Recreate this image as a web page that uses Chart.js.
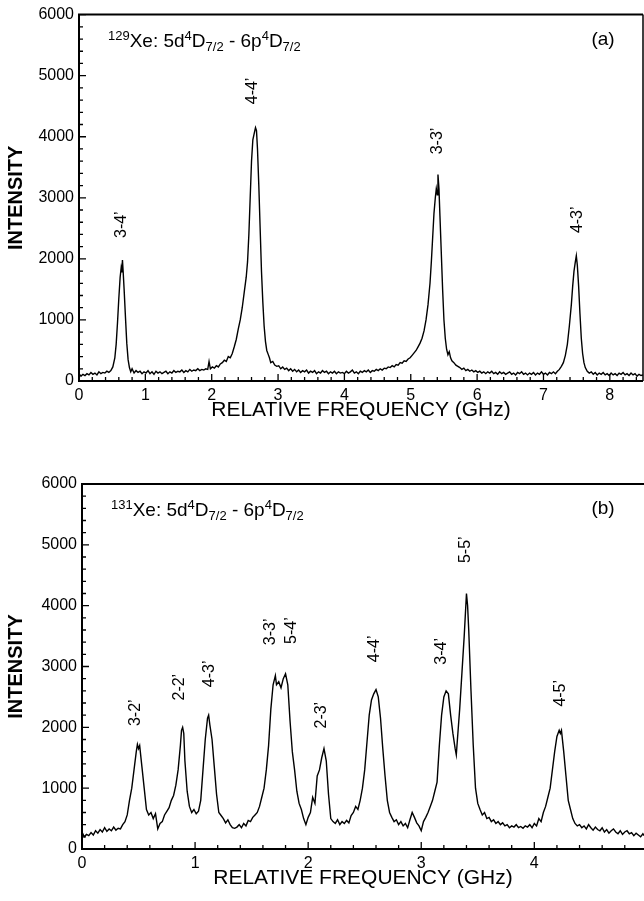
<!DOCTYPE html>
<html>
<head>
<meta charset="utf-8">
<script src="https://cdn.jsdelivr.net/npm/chart.js@4.4.0/dist/chart.umd.min.js"></script>
<style>
  html, body { margin: 0; padding: 0; background: #fff; }
  .panel { position: absolute; left: 0; width: 644px; }
</style>
</head>
<body>
<div class="panel" style="top:0;height:450px"><canvas id="chartA"></canvas></div>
<div class="panel" style="top:450px;height:451px"><canvas id="chartB"></canvas></div>
<script>
// ---- data ----
// (a) 129Xe spectrum
var freqA = [
  0.00,0.03,0.06,0.09,0.12,0.15,0.18,0.21,0.24,0.27,
  0.30,0.33,0.36,0.39,0.42,0.45,0.48,0.51,0.54,0.56,
  0.58,0.60,0.62,0.635,0.645,0.655,0.665,0.68,0.70,0.72,
  0.74,0.76,0.78,0.80,0.83,0.86,0.89,0.92,0.95,0.98,
  1.01,1.04,1.07,1.10,1.13,1.16,1.19,1.22,1.25,1.28,
  1.31,1.34,1.37,1.40,1.43,1.46,1.49,1.52,1.55,1.58,
  1.61,1.64,1.67,1.70,1.73,1.76,1.79,1.82,1.85,1.88,
  1.91,1.94,1.96,1.98,2.01,2.04,2.07,2.10,2.13,2.16,
  2.19,2.22,2.25,2.28,2.31,2.34,2.37,2.40,2.43,2.46,
  2.49,2.52,2.54,2.56,2.58,2.60,2.62,2.64,2.66,2.675,
  2.69,2.71,2.73,2.75,2.77,2.79,2.81,2.83,2.85,2.87,
  2.89,2.92,2.95,2.98,3.01,3.04,3.07,3.10,3.13,3.16,
  3.19,3.22,3.25,3.28,3.31,3.34,3.37,3.40,3.43,3.46,
  3.49,3.52,3.55,3.58,3.61,3.64,3.67,3.70,3.73,3.76,
  3.79,3.82,3.85,3.88,3.91,3.94,3.97,4.00,4.03,4.06,
  4.09,4.12,4.15,4.18,4.21,4.24,4.27,4.30,4.33,4.36,
  4.39,4.42,4.45,4.48,4.51,4.54,4.57,4.60,4.63,4.66,
  4.69,4.72,4.75,4.78,4.81,4.84,4.87,4.90,4.93,4.96,
  4.99,5.02,5.05,5.08,5.11,5.14,5.17,5.20,5.23,5.26,
  5.29,5.31,5.33,5.35,5.37,5.385,5.40,5.41,5.425,5.44,
  5.46,5.48,5.50,5.52,5.54,5.56,5.58,5.60,5.62,5.65,
  5.68,5.71,5.74,5.77,5.80,5.83,5.86,5.89,5.92,5.95,
  5.98,6.01,6.04,6.07,6.10,6.13,6.16,6.19,6.22,6.25,
  6.28,6.31,6.34,6.37,6.40,6.43,6.46,6.49,6.52,6.55,
  6.58,6.61,6.64,6.67,6.70,6.73,6.76,6.79,6.82,6.85,
  6.88,6.91,6.94,6.97,7.00,7.03,7.06,7.09,7.12,7.15,
  7.18,7.21,7.24,7.27,7.30,7.33,7.36,7.39,7.42,7.44,
  7.46,7.48,7.495,7.51,7.53,7.55,7.57,7.59,7.61,7.63,
  7.66,7.69,7.72,7.75,7.78,7.81,7.84,7.87,7.90,7.93,
  7.96,7.99,8.02,8.05,8.08,8.11,8.14,8.17,8.20,8.23,
  8.26,8.29,8.32,8.35,8.38,8.41,8.44,8.47,8.50
];
var intensityA = [
  120,80,110,90,120,100,140,110,130,100,
  150,120,140,130,160,140,170,230,380,600,
  950,1350,1700,1850,1780,1980,1800,1500,1050,620,
  350,220,150,200,130,170,140,160,120,150,
  130,170,120,150,110,160,130,150,120,140,
  160,120,150,130,170,140,160,150,180,140,
  170,150,190,160,180,170,200,170,190,180,
  200,190,320,200,230,210,250,230,280,300,
  340,320,400,380,450,560,680,850,1000,1200,
  1450,1700,1950,2400,3000,3600,3950,4050,4150,4100,
  3800,3200,2500,1800,1300,900,650,500,440,380,
  300,320,260,240,250,200,230,190,210,170,
  200,160,190,150,180,140,170,150,180,130,
  160,140,170,120,150,130,170,140,160,120,
  150,130,160,120,150,130,140,120,160,130,
  150,180,130,150,120,160,140,170,150,180,
  140,170,160,190,170,200,180,210,200,230,
  220,250,230,270,260,300,290,330,320,360,
  380,420,460,500,560,620,700,820,1000,1250,
  1600,1950,2350,2750,3000,3150,3050,3380,3150,2700,
  2100,1500,1000,700,520,430,480,380,330,300,
  260,240,220,190,210,170,190,160,180,150,
  170,140,160,130,150,120,150,130,160,120,
  140,110,150,120,140,110,130,150,110,130,
  100,140,120,150,110,130,100,130,110,140,
  100,130,110,150,110,130,100,140,120,150,
  120,160,190,240,300,420,600,900,1250,1550,
  1800,1950,2050,1900,1550,1100,700,450,300,220,
  160,130,150,110,140,100,130,110,140,100,
  120,90,130,100,120,90,130,110,140,100,
  120,90,130,100,120,80,110,90,100
];

// (b) 131Xe spectrum
var freqB = [
  0.00,0.02,0.04,0.06,0.08,0.10,0.12,0.14,0.16,0.18,
  0.20,0.22,0.24,0.26,0.28,0.30,0.32,0.34,0.36,0.38,
  0.40,0.42,0.44,0.46,0.48,0.49,0.50,0.51,0.53,0.55,
  0.57,0.59,0.61,0.63,0.65,0.67,0.69,0.71,0.73,0.75,
  0.77,0.79,0.81,0.83,0.85,0.87,0.88,0.89,0.90,0.91,
  0.93,0.95,0.97,0.99,1.01,1.03,1.05,1.07,1.09,1.11,
  1.12,1.13,1.15,1.17,1.19,1.21,1.23,1.25,1.27,1.29,
  1.31,1.33,1.35,1.37,1.39,1.41,1.43,1.45,1.47,1.49,
  1.51,1.53,1.55,1.57,1.59,1.61,1.63,1.65,1.67,1.69,
  1.71,1.72,1.74,1.76,1.78,1.80,1.82,1.84,1.86,1.88,
  1.90,1.92,1.94,1.96,1.98,2.00,2.02,2.04,2.06,2.08,
  2.10,2.12,2.14,2.16,2.18,2.20,2.22,2.24,2.26,2.28,
  2.30,2.32,2.34,2.36,2.38,2.40,2.42,2.44,2.46,2.48,
  2.50,2.52,2.54,2.56,2.58,2.60,2.62,2.64,2.66,2.68,
  2.70,2.72,2.74,2.76,2.78,2.80,2.82,2.84,2.86,2.88,
  2.90,2.92,2.94,2.96,2.98,3.00,3.02,3.04,3.06,3.08,
  3.10,3.12,3.14,3.16,3.18,3.20,3.22,3.24,3.26,3.28,
  3.30,3.31,3.32,3.34,3.36,3.38,3.40,3.41,3.42,3.44,
  3.46,3.48,3.50,3.52,3.54,3.56,3.58,3.60,3.62,3.64,
  3.66,3.68,3.70,3.72,3.74,3.76,3.78,3.80,3.82,3.84,
  3.86,3.88,3.90,3.92,3.94,3.96,3.98,4.00,4.02,4.04,
  4.06,4.08,4.10,4.12,4.14,4.16,4.18,4.20,4.22,4.23,
  4.24,4.26,4.28,4.30,4.32,4.34,4.36,4.38,4.40,4.42,
  4.44,4.46,4.48,4.50,4.52,4.54,4.56,4.58,4.60,4.62,
  4.64,4.66,4.68,4.70,4.72,4.74,4.76,4.78,4.80,4.82,
  4.84,4.86,4.88,4.90,4.92,4.94,4.96,4.97
];
var intensityB = [
  280,200,240,220,270,230,300,260,320,280,
  350,290,330,300,360,310,340,330,400,450,
  560,800,1000,1300,1600,1720,1650,1700,1350,1000,
  650,560,600,500,580,330,420,450,560,620,
  680,800,880,1050,1300,1700,1950,2000,1900,1450,
  950,700,600,650,580,620,800,1300,1800,2150,
  2200,2050,1800,1350,900,600,550,500,430,480,
  400,350,340,360,400,350,420,380,470,450,
  520,560,600,700,850,1000,1300,1700,2300,2700,
  2850,2700,2750,2650,2800,2880,2700,2100,1600,1300,
  950,750,650,500,400,520,600,850,750,1200,
  1300,1500,1650,1450,900,500,450,420,480,400,
  450,420,470,430,550,600,700,650,800,1000,
  1300,1750,2200,2450,2550,2620,2500,2150,1650,1200,
  800,600,520,450,480,400,450,380,420,350,
  480,600,520,430,380,300,450,520,600,700,
  800,950,1100,1700,2200,2500,2600,2550,2200,1900,
  1650,1550,1800,2300,2900,3500,4200,4000,3600,2600,
  1700,1000,750,650,560,600,500,520,450,480,
  420,450,400,430,380,400,350,380,360,400,
  350,370,340,380,360,400,350,420,380,500,
  450,600,700,850,1000,1300,1600,1850,1950,1900,
  1950,1600,1200,800,650,500,420,380,400,350,
  380,330,400,350,310,360,320,300,350,280,
  320,260,300,330,280,250,300,240,280,300,
  250,270,220,260,230,200,250,220
];

// tick labels
var yTickValues = [0, 1000, 2000, 3000, 4000, 5000, 6000];
var xTickValuesA = [0, 1, 2, 3, 4, 5, 6, 7, 8];
var xTickValuesB = [0, 1, 2, 3, 4];

// transition labels: name, frequency (GHz) and intensity where the label sits
var peakNamesA = ['3-4\u2019', '4-4\u2019', '3-3\u2019', '4-3\u2019'];
var peakFreqA  = [0.64, 2.61, 5.40, 7.51];
var peakLevelA = [2560, 4750, 3930, 2640];

var peakNamesB = ['3-2\u2019', '2-2\u2019', '4-3\u2019', '3-3\u2019', '5-4\u2019', '2-3\u2019', '4-4\u2019', '3-4\u2019', '5-5\u2019', '4-5\u2019'];
var peakFreqB  = [0.47, 0.86, 1.13, 1.67, 1.85, 2.12, 2.59, 3.18, 3.39, 4.23];
var peakLevelB = [2240, 2660, 2880, 3570, 3590, 2200, 3290, 3250, 4920, 2560];

Chart.defaults.font.family = "'Liberation Sans', Arial, sans-serif";
Chart.defaults.color = '#000';

// frame, inward ticks, formula and transition labels
const spectrumDecor = {
  id: 'spectrumDecor',
  afterDraw(chart, args, o) {
    const ctx = chart.ctx, a = chart.chartArea;
    const x = chart.scales.x, y = chart.scales.y;
    ctx.save();
    ctx.strokeStyle = '#000';
    ctx.fillStyle = '#000';

    ctx.lineWidth = 2;
    ctx.beginPath();
    ctx.moveTo(a.right, a.top);
    ctx.lineTo(a.left, a.top);
    ctx.lineTo(a.left, a.bottom);
    ctx.lineTo(a.right, a.bottom);
    ctx.stroke();
    if (o.rightBorder) {
      ctx.lineWidth = 1.5;
      ctx.beginPath();
      ctx.moveTo(a.right, a.top);
      ctx.lineTo(a.right, a.bottom);
      ctx.stroke();
    }

    ctx.lineWidth = 1.3;
    ctx.beginPath();
    for (let i = 0; i * 0.2 <= x.max + 1e-6; i++) {
      const px = x.getPixelForValue(i * 0.2);
      const len = i % 5 === 0 ? 7 : 4;
      ctx.moveTo(px, a.bottom);
      ctx.lineTo(px, a.bottom - len);
    }
    for (let j = 0; j * 200 <= y.max; j++) {
      const py = y.getPixelForValue(j * 200);
      const len = j % 5 === 0 ? 7 : 4;
      ctx.moveTo(a.left, py);
      ctx.lineTo(a.left + len, py);
    }
    ctx.stroke();

    // 1xxXe: 5d4D7/2 - 6p4D7/2
    const parts = [[o.isotope, 'sup'], ['Xe: 5d', ''], ['4', 'sup'], ['D', ''], ['7/2', 'sub'],
                   [' - 6p', ''], ['4', 'sup'], ['D', ''], ['7/2', 'sub']];
    let tx = a.left + 29;
    const base = a.top + 32;
    ctx.textAlign = 'left';
    ctx.textBaseline = 'alphabetic';
    for (const [t, k] of parts) {
      ctx.font = (k ? '13px' : '19px') + " 'Liberation Sans', Arial, sans-serif";
      const dy = k === 'sup' ? -7 : (k === 'sub' ? 4 : 0);
      ctx.fillText(t, tx, base + dy);
      tx += ctx.measureText(t).width;
    }

    ctx.font = "19px 'Liberation Sans', Arial, sans-serif";
    ctx.textAlign = 'center';
    ctx.textBaseline = 'middle';
    ctx.fillText(o.tag, 603, a.top + 25);

    ctx.font = "16px 'Liberation Sans', Arial, sans-serif";
    for (let i = 0; i < o.names.length; i++) {
      const px = x.getPixelForValue(o.freq[i]);
      const py = y.getPixelForValue(o.level[i]);
      ctx.save();
      ctx.translate(px, py);
      ctx.rotate(-Math.PI / 2);
      ctx.fillText(o.names[i], 0, 0);
      ctx.restore();
    }
    ctx.restore();
  }
};

function makeSpectrum(canvasId, cfg) {
  const points = cfg.freq.map((f, i) => ({ x: f, y: cfg.intensity[i] }));
  return new Chart(document.getElementById(canvasId), {
    type: 'line',
    data: {
      datasets: [{
        data: points,
        borderColor: '#000',
        borderWidth: 1.4,
        pointRadius: 0,
        fill: false,
        tension: 0
      }]
    },
    options: {
      responsive: true,
      maintainAspectRatio: false,
      animation: false,
      layout: { padding: { top: cfg.padTop, right: cfg.padRight, left: 0, bottom: 0 } },
      scales: {
        x: {
          type: 'linear',
          min: 0,
          max: cfg.xMax,
          afterBuildTicks: s => { s.ticks = cfg.xTicks.map(v => ({ value: v })); },
          afterFit: s => { s.height = cfg.xAxisHeight; },
          grid: { display: false, drawTicks: false, tickLength: 0 },
          border: { display: false },
          ticks: { font: { size: 16 }, color: '#000', padding: 5, maxRotation: 0, autoSkip: false,
                   callback: v => String(v) },
          title: {
            display: true,
            text: 'RELATIVE FREQUENCY (GHz)',
            font: { size: 21 },
            color: '#000',
            padding: { top: 0, bottom: cfg.xTitlePad }
          }
        },
        y: {
          min: 0,
          max: 6000,
          afterBuildTicks: s => { s.ticks = yTickValues.map(v => ({ value: v })); },
          afterFit: s => { s.width = cfg.yAxisWidth; },
          grid: { display: false, drawTicks: false, tickLength: 0 },
          border: { display: false },
          ticks: { font: { size: 16 }, color: '#000', padding: 5, callback: v => String(v) },
          title: {
            display: true,
            text: 'INTENSITY',
            font: { size: 20, weight: 'bold' },
            color: '#000',
            padding: { top: 4, bottom: 0 }
          }
        }
      },
      plugins: {
        legend: { display: false },
        tooltip: { enabled: false },
        spectrumDecor: {
          isotope: cfg.isotope,
          tag: cfg.tag,
          names: cfg.names,
          freq: cfg.peakFreq,
          level: cfg.peakLevel,
          rightBorder: cfg.rightBorder
        }
      }
    },
    plugins: [spectrumDecor]
  });
}

makeSpectrum('chartA', {
  freq: freqA, intensity: intensityA, xMax: 8.5, xTicks: xTickValuesA,
  padTop: 13, padRight: 1, yAxisWidth: 79, xAxisHeight: 69, xTitlePad: 27,
  isotope: '129', tag: '(a)', names: peakNamesA, peakFreq: peakFreqA, peakLevel: peakLevelA,
  rightBorder: true
});

makeSpectrum('chartB', {
  freq: freqB, intensity: intensityB, xMax: 4.97, xTicks: xTickValuesB,
  padTop: 34, padRight: 0, yAxisWidth: 82, xAxisHeight: 52, xTitlePad: 10,
  isotope: '131', tag: '(b)', names: peakNamesB, peakFreq: peakFreqB, peakLevel: peakLevelB,
  rightBorder: false
});
</script>
</body>
</html>
